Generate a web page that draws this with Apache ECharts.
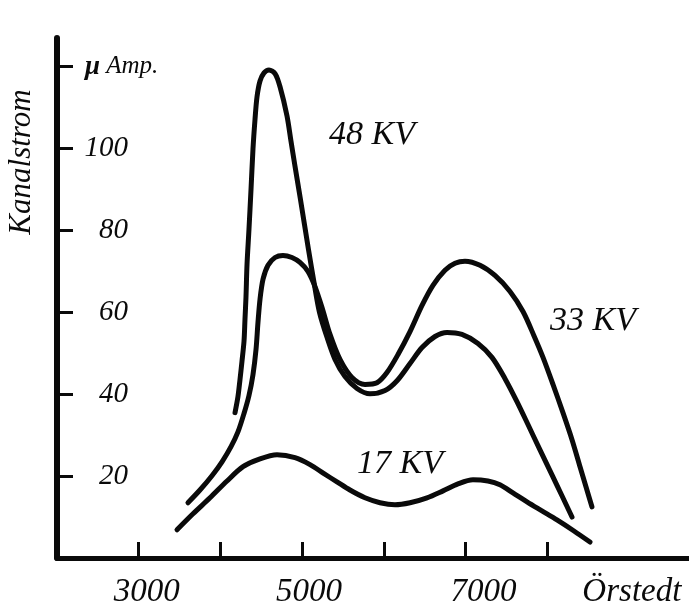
<!DOCTYPE html>
<html>
<head>
<meta charset="utf-8">
<script src="https://cdn.jsdelivr.net/npm/echarts@6/dist/echarts.min.js"></script>
<style>
html,body{margin:0;padding:0;background:#fff;}
#chart{width:689px;height:607px;}
</style>
</head>
<body>
<div id="chart"></div>
<script>
// ---- data (Örstedt, µA) ----
const kv48 = [
  [4179,35.5],[4215,39.4],[4240,43.6],[4264,48.0],[4289,52.9],[4301,58.3],[4313,63.6],
  [4326,71.7],[4350,80.3],[4375,90.1],[4399,99.9],[4424,107.2],[4448,112.6],[4485,116.5],
  [4534,118.5],[4595,119.2],[4669,118.3],[4730,115.1],[4815,108.0],[4864,101.8],
  [4913,95.7],[4980,87.6],[5078,75.4],[5146,67.3],[5213,60.0],[5305,53.9],[5403,48.5],
  [5525,44.3],[5672,41.4],[5831,40.1],[6015,40.9],[6162,43.3],[6321,47.5],[6468,51.4],
  [6627,54.1],[6774,55.1],[6957,54.6],[7153,52.4],[7324,49.0],[7484,43.8],[7630,38.2],
  [7765,32.6],[7912,26.4],[8059,20.3],[8181,15.2],[8304,10.0]
];
const kv33 = [
  [3603,13.5],[3750,16.6],[3897,20.1],[4020,23.5],[4130,27.2],[4215,30.8],[4289,35.3],
  [4350,39.7],[4399,44.8],[4436,50.9],[4460,57.5],[4485,63.2],[4522,68.1],[4583,71.5],
  [4669,73.4],[4766,73.9],[4876,73.4],[4974,72.2],[5072,70.0],[5158,66.3],[5244,61.2],
  [5342,54.6],[5464,48.5],[5611,44.1],[5770,42.4],[5917,42.8],[6039,45.3],[6174,49.7],
  [6321,55.3],[6468,61.7],[6602,66.6],[6749,70.3],[6872,72.0],[6994,72.5],[7178,71.5],
  [7361,69.0],[7545,65.1],[7704,60.2],[7838,54.3],[7949,49.0],[8071,42.4],[8193,35.5],
  [8304,28.9],[8402,22.3],[8475,17.4],[8548,12.5]
];
const kv17 = [
  [3469,6.9],[3665,10.8],[3873,14.7],[4081,18.8],[4277,22.3],[4485,24.2],[4693,25.2],
  [4913,24.5],[5097,22.8],[5268,20.6],[5427,18.6],[5586,16.6],[5770,14.7],[5954,13.5],
  [6137,13.0],[6321,13.5],[6529,14.7],[6725,16.4],[6908,18.1],[7092,19.1],[7275,18.8],
  [7422,17.9],[7581,15.9],[7753,13.7],[7936,11.5],[8120,9.3],[8328,6.6],[8524,3.9]
];
const seriesNames = ['48 KV', '33 KV', '17 KV'];
const xTickValues = [3000, 4000, 5000, 6000, 7000, 8000];
const xLabelValues = [3000, 5000, 7000, 9000];
const xUnitLabel = 'Örstedt';
const yTickValues = [20, 40, 60, 80, 100, 120];
const yUnitLabel = 'Amp.';
const yUnitSymbol = 'μ';
const yAxisTitle = 'Kanalstrom';

const chart = echarts.init(document.getElementById('chart'), null, {renderer: 'canvas'});
const FONT = 'Liberation Serif';
const INK = '#0a0a0a';
const lineStyle = {color: INK, width: 5, cap: 'round', join: 'round'};

// small horizontal nudges of the printed x labels (left padding, px)
const xLabelPad = {3000: 16, 5000: 14, 7000: 36, 9000: 6};
const xRich = {};
xLabelValues.forEach(v => {
  xRich['p' + v] = {padding: [0, 0, 0, xLabelPad[v]], fontFamily: FONT, fontStyle: 'italic', fontSize: 33, color: INK};
});

const option = {
  backgroundColor: '#ffffff',
  animation: false,
  grid: {left: 57, right: 0, top: 38, bottom: 49, containLabel: false, outerBoundsMode: 'none'},
  xAxis: {
    type: 'value', min: 2000, max: 9736, interval: 1000,
    splitLine: {show: false},
    axisLine: {show: true, onZero: false, lineStyle: {color: INK, width: 5}},
    axisTick: {show: true, inside: true, length: 16, customValues: xTickValues,
      lineStyle: {color: INK, width: 3}},
    axisLabel: {
      customValues: xLabelValues, margin: 18,
      fontFamily: FONT, fontStyle: 'italic', fontSize: 33, color: INK,
      formatter: v => '{p' + v + '|' + (v === 9000 ? xUnitLabel : String(v)) + '}',
      rich: xRich
    }
  },
  yAxis: {
    type: 'value', min: 0, max: 127, interval: 20,
    splitLine: {show: false},
    axisLine: {show: true, onZero: false, lineStyle: {color: INK, width: 6}},
    axisTick: {show: true, inside: true, length: 16, customValues: yTickValues,
      lineStyle: {color: INK, width: 3}},
    axisLabel: {
      customValues: yTickValues, inside: true, margin: 28, align: 'left',
      color: INK,
      formatter: v => v === 120 ? '{m|' + yUnitSymbol + '}{a| ' + yUnitLabel + '}' : '{n|' + v + '}',
      rich: {
        n: {width: 43, align: 'right', fontFamily: FONT, fontStyle: 'italic', fontSize: 29, color: INK},
        m: {fontFamily: FONT, fontWeight: 'bold', fontStyle: 'italic', fontSize: 27, color: INK},
        a: {fontFamily: FONT, fontStyle: 'italic', fontSize: 25, color: INK}
      }
    }
  },
  series: [
    {name: seriesNames[0], type: 'line', data: kv48, smooth: 0.3, showSymbol: false, lineStyle: lineStyle, z: 3},
    {name: seriesNames[1], type: 'line', data: kv33, smooth: 0.3, showSymbol: false, lineStyle: lineStyle, z: 3},
    {name: seriesNames[2], type: 'line', data: kv17, smooth: 0.3, showSymbol: false, lineStyle: lineStyle, z: 3}
  ],
  graphic: [
    {type: 'text', x: 22, y: 162, rotation: Math.PI / 2,
      style: {text: yAxisTitle, font: 'italic 31px "Liberation Serif"', fill: INK, align: 'center', verticalAlign: 'middle'}},
    {type: 'text', x: 372, y: 135,
      style: {text: seriesNames[0], font: 'italic 34px "Liberation Serif"', fill: INK, align: 'center', verticalAlign: 'middle'}},
    {type: 'text', x: 593, y: 321,
      style: {text: seriesNames[1], font: 'italic 34px "Liberation Serif"', fill: INK, align: 'center', verticalAlign: 'middle'}},
    {type: 'text', x: 400, y: 464,
      style: {text: seriesNames[2], font: 'italic 34px "Liberation Serif"', fill: INK, align: 'center', verticalAlign: 'middle'}}
  ]
};
chart.setOption(option);
</script>
</body>
</html>
